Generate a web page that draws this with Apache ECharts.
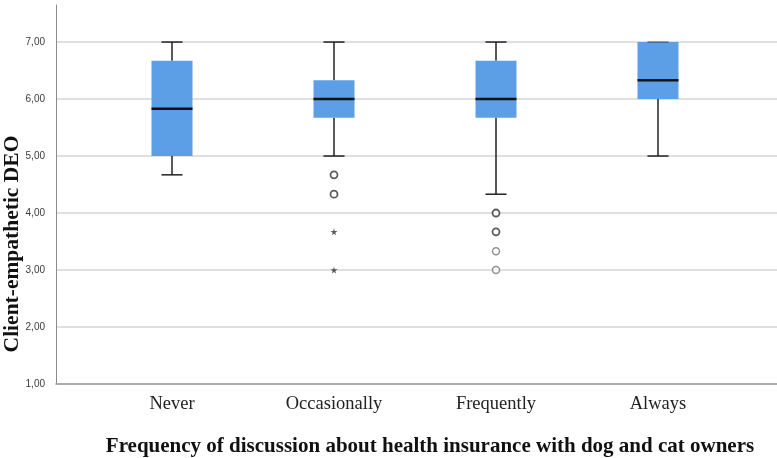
<!DOCTYPE html>
<html>
<head>
<meta charset="utf-8">
<script src="https://cdn.jsdelivr.net/npm/echarts@6/dist/echarts.min.js"></script>
<style>html,body{margin:0;padding:0;background:#fff}#c{width:777px;height:458px}</style>
</head>
<body>
<div id="c"></div>
<script>
const categories = ['Never', 'Occasionally', 'Frequently', 'Always'];
const whiskerLow = [4.67, 5.0, 4.33, 5.0];
const q1 = [5.0, 5.67, 5.67, 6.0];
const median = [5.83, 6.0, 6.0, 6.33];
const q3 = [6.67, 6.33, 6.67, 7.0];
const whiskerHigh = [7.0, 7.0, 7.0, 7.0];
const outlierCircles = [[1, 4.67], [1, 4.33], [2, 4.0], [2, 3.67]];
const outlierCirclesLight = [[2, 3.33], [2, 3.0]];
const extremeStars = [[1, 3.67], [1, 3.0]];
const yTitle = 'Client-empathetic DEO';
const xTitle = 'Frequency of discussion about health insurance with dog and cat owners';

const boxData = categories.map((c, i) => [i, whiskerLow[i], q1[i], median[i], q3[i], whiskerHigh[i]]);

const chart = echarts.init(document.getElementById('c'), null, {renderer: 'canvas'});
const yMin = 1, yMax = 7.65;
const fmt = v => v.toFixed(2).replace('.', ',');

chart.setOption({
  animation: false,
  grid: [
    {left: 91, right: 38, top: 5, bottom: 74},
    {left: 56, right: 0, top: 5, bottom: 74}
  ],
  xAxis: [
    {
      gridIndex: 0, type: 'category', data: categories, boundaryGap: true,
      axisLine: {show: false}, axisTick: {show: false}, splitLine: {show: false},
      axisLabel: {fontFamily: 'Liberation Serif', fontSize: 18.5, color: '#222', margin: 11}
    },
    {
      gridIndex: 1, type: 'value', min: 0, max: 1,
      axisLine: {show: true, lineStyle: {color: '#9a9a9a', width: 1.5}},
      axisTick: {show: false}, axisLabel: {show: false}, splitLine: {show: false}
    }
  ],
  yAxis: [
    {
      gridIndex: 0, type: 'value', min: yMin, max: yMax, interval: 1,
      axisLine: {show: false}, axisTick: {show: false}, axisLabel: {show: false}, splitLine: {show: false}
    },
    {
      gridIndex: 1, type: 'value', min: yMin, max: yMax, interval: 1,
      axisLine: {show: true, lineStyle: {color: '#8a8a8a', width: 1}},
      axisTick: {show: false},
      axisLabel: {fontFamily: 'Liberation Sans', fontSize: 10, color: '#3a3a3a', margin: 11, formatter: fmt, showMaxLabel: false},
      splitLine: {show: true, showMaxLine: false, lineStyle: {color: '#d6d6d6', width: 1.5}}
    }
  ],
  graphic: [
    {
      type: 'text', x: 12, y: 244, rotation: Math.PI / 2,
      style: {text: yTitle, font: 'bold 21.5px "Liberation Serif"', fill: '#111', textAlign: 'center', textVerticalAlign: 'middle'}
    },
    {
      type: 'text', x: 430, y: 447,
      style: {text: xTitle, font: 'bold 21px "Liberation Serif"', fill: '#111', textAlign: 'center', textVerticalAlign: 'middle'}
    }
  ],
  series: [
    {
      type: 'custom', xAxisIndex: 0, yAxisIndex: 0,
      data: boxData,
      encode: {x: 0, y: [1, 2, 3, 4, 5]},
      renderItem: function (params, api) {
        const x = api.value(0);
        const band = api.size([1, 0])[0];
        const bw = band * 0.253, cw = band * 0.13;
        const pLow = api.coord([x, api.value(1)]);
        const pQ1 = api.coord([x, api.value(2)]);
        const pMed = api.coord([x, api.value(3)]);
        const pQ3 = api.coord([x, api.value(4)]);
        const pHigh = api.coord([x, api.value(5)]);
        const cx = pLow[0];
        const ws = {stroke: '#222', lineWidth: 1.5};
        return {
          type: 'group',
          children: [
            {type: 'line', shape: {x1: cx, y1: pLow[1], x2: cx, y2: pQ1[1]}, style: ws},
            {type: 'line', shape: {x1: cx, y1: pHigh[1], x2: cx, y2: pQ3[1]}, style: ws},
            {type: 'line', shape: {x1: cx - cw / 2, y1: pLow[1], x2: cx + cw / 2, y2: pLow[1]}, style: ws},
            {type: 'rect', shape: {x: cx - bw / 2, y: pQ3[1], width: bw, height: pQ1[1] - pQ3[1]}, style: {fill: '#5c9fe7'}},
            {type: 'line', shape: {x1: cx - cw / 2, y1: pHigh[1], x2: cx + cw / 2, y2: pHigh[1]}, style: {stroke: '#222', lineWidth: 1.5, opacity: pHigh[1] === pQ3[1] ? 0.5 : 1}},
            {type: 'line', shape: {x1: cx - bw / 2, y1: pMed[1], x2: cx + bw / 2, y2: pMed[1]}, style: {stroke: '#111', lineWidth: 2.6}}
          ]
        };
      }
    },
    {
      type: 'scatter', xAxisIndex: 0, yAxisIndex: 0, data: outlierCircles,
      symbol: 'circle', symbolSize: 7,
      itemStyle: {color: '#fff', borderColor: '#333', borderWidth: 1.8}, z: 5
    },
    {
      type: 'scatter', xAxisIndex: 0, yAxisIndex: 0, data: outlierCirclesLight,
      symbol: 'circle', symbolSize: 7,
      itemStyle: {color: '#fff', borderColor: '#777', borderWidth: 1.5}, z: 5
    },
    {
      type: 'scatter', xAxisIndex: 0, yAxisIndex: 0, data: extremeStars,
      symbol: 'path://M50,0 L61,35 L98,35 L68,57 L79,91 L50,70 L21,91 L32,57 L2,35 L39,35 Z',
      symbolSize: 7,
      itemStyle: {color: '#333'}, z: 5
    }
  ]
});
</script>
</body>
</html>
